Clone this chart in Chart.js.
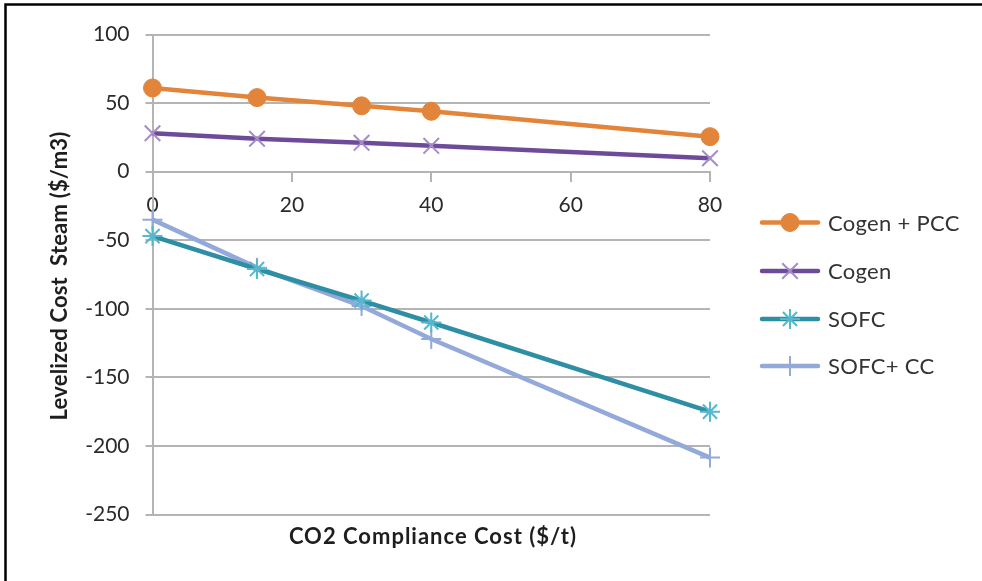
<!DOCTYPE html>
<html>
<head>
<meta charset="utf-8">
<script src="https://cdn.jsdelivr.net/npm/chart.js@4/dist/chart.umd.min.js"></script>
<style>
  html, body { margin: 0; padding: 0; background: #fff; }
  #wrap { width: 982px; height: 581px; position: relative; }
</style>
</head>
<body>
<div id="wrap"><canvas id="c" width="982" height="581"></canvas></div>
<script>
// CO2 compliance cost ($/t) at which each case was evaluated
const complianceCost = [0, 15, 30, 40, 80];

// Levelized cost of steam ($/m3) per case
const cogenPcc = [61, 54, 48, 44, 25.5];
const cogen    = [28, 24, 21, 18.8, 9.8];
const sofc     = [-47, -71, -94, -110, -175];
const sofcCc   = [-35, -70, -98, -122, -208.5];

// Axis tick values
const xTicks = [0, 20, 40, 60, 80];
const yTicks = [100, 50, 0, -50, -100, -150, -200, -250];

const seriesNames = ['Cogen + PCC', 'Cogen', 'SOFC', 'SOFC+ CC'];

const FONT = 'Lato, "Open Sans", sans-serif';
const GRID = '#b4b4b4';

function pts(values) {
  return complianceCost.map((x, i) => ({ x: x, y: values[i] }));
}

const datasets = [
  { label: seriesNames[0], data: pts(cogenPcc), borderColor: '#e2843a', backgroundColor: '#e2843a',
    pointStyle: 'circle', pointRadius: 9, pointBorderColor: '#e2843a', pointBackgroundColor: '#e2843a', pointBorderWidth: 1 },
  { label: seriesNames[1], data: pts(cogen), borderColor: '#6d4b98', backgroundColor: '#6d4b98',
    pointStyle: 'crossRot', pointRadius: 11, pointBorderColor: '#a58cc8', pointBorderWidth: 2 },
  { label: seriesNames[2], data: pts(sofc), borderColor: '#2e8ea4', backgroundColor: '#2e8ea4',
    pointStyle: 'star', pointRadius: 10, pointBorderColor: '#56b7cd', pointBorderWidth: 2 },
  { label: seriesNames[3], data: pts(sofcCc), borderColor: '#93a9d9', backgroundColor: '#93a9d9',
    pointStyle: 'cross', pointRadius: 10, pointBorderColor: '#93a9d9', pointBorderWidth: 2 }
].map(d => Object.assign({ borderWidth: 4.5, tension: 0, clip: false, fill: false }, d));

// Frame, axis titles and the line-and-marker legend on the right
const decorations = {
  id: 'decorations',
  beforeDraw(chart) {
    const ctx = chart.ctx;
    ctx.save();
    ctx.fillStyle = '#fff';
    ctx.fillRect(0, 0, chart.width, chart.height);
    ctx.strokeStyle = '#000';
    ctx.lineWidth = 2.5;
    ctx.beginPath();
    ctx.moveTo(5.5, chart.height);
    ctx.lineTo(5.5, 4.5);
    ctx.lineTo(chart.width, 4.5);
    ctx.stroke();
    ctx.restore();
  },
  afterDraw(chart) {
    const ctx = chart.ctx;
    ctx.save();
    ctx.fillStyle = '#1e1e1e';
    ctx.font = 'bold 22px ' + FONT;
    ctx.textAlign = 'center';
    ctx.textBaseline = 'middle';
    ctx.letterSpacing = '1px';
    ctx.fillText('CO2 Compliance Cost ($/t)', 433, 537);
    ctx.letterSpacing = '0.2px';
    ctx.translate(60, 276);
    ctx.rotate(-Math.PI / 2);
    ctx.fillText('Levelized Cost  Steam ($/m3)', 0, 0);
    ctx.restore();

    // legend
    const x0 = 762, x1 = 818, tx = 828;
    const ys = [222.5, 271, 319, 366];
    chart.data.datasets.forEach((ds, i) => {
      const y = ys[i];
      ctx.save();
      ctx.strokeStyle = ds.borderColor;
      ctx.lineWidth = ds.borderWidth;
      ctx.lineCap = 'round';
      ctx.beginPath();
      ctx.moveTo(x0, y);
      ctx.lineTo(x1, y);
      ctx.stroke();
      ctx.restore();
      ctx.save();
      ctx.strokeStyle = ds.pointBorderColor;
      ctx.fillStyle = ds.pointBackgroundColor || ds.pointBorderColor;
      ctx.lineWidth = ds.pointBorderWidth;
      Chart.helpers.drawPoint(ctx, { pointStyle: ds.pointStyle, radius: ds.pointRadius, rotation: 0, borderWidth: ds.pointBorderWidth },
        (x0 + x1) / 2, y);
      ctx.restore();
      ctx.save();
      ctx.fillStyle = '#333';
      ctx.font = '22px ' + FONT;
      ctx.letterSpacing = '0.3px';
      ctx.textAlign = 'left';
      ctx.textBaseline = 'middle';
      ctx.fillText(ds.label, tx, y + 1);
      ctx.restore();
    });
  }
};

new Chart(document.getElementById('c'), {
  type: 'line',
  data: { datasets: datasets },
  plugins: [decorations],
  options: {
    responsive: false,
    animation: false,
    devicePixelRatio: 1,
    layout: { padding: { left: 0, right: 272, top: 34.5, bottom: 66.5 } },
    plugins: { legend: { display: false }, tooltip: { enabled: false } },
    scales: {
      x: {
        type: 'linear',
        min: 0, max: 80,
        position: { y: 0 },
        afterBuildTicks(s) { s.ticks = xTicks.map(v => ({ value: v })); },
        afterFit(s) { s.height = 0; },
        ticks: { color: '#2a2a2a', font: { family: FONT, size: 21 }, padding: 12, maxRotation: 0 },
        grid: { drawOnChartArea: false, drawTicks: true, tickLength: 9, color: GRID, lineWidth: 2 },
        border: { color: GRID, width: 2 }
      },
      y: {
        min: -250, max: 100,
        afterBuildTicks(s) { s.ticks = yTicks.map(v => ({ value: v })); },
        afterFit(s) { s.width = 152.5; },
        ticks: { color: '#2a2a2a', font: { family: FONT, size: 21 }, padding: 16 },
        grid: { color: GRID, lineWidth: 2, tickLength: 7 },
        border: { color: GRID, width: 2 }
      }
    }
  }
});
</script>
</body>
</html>
